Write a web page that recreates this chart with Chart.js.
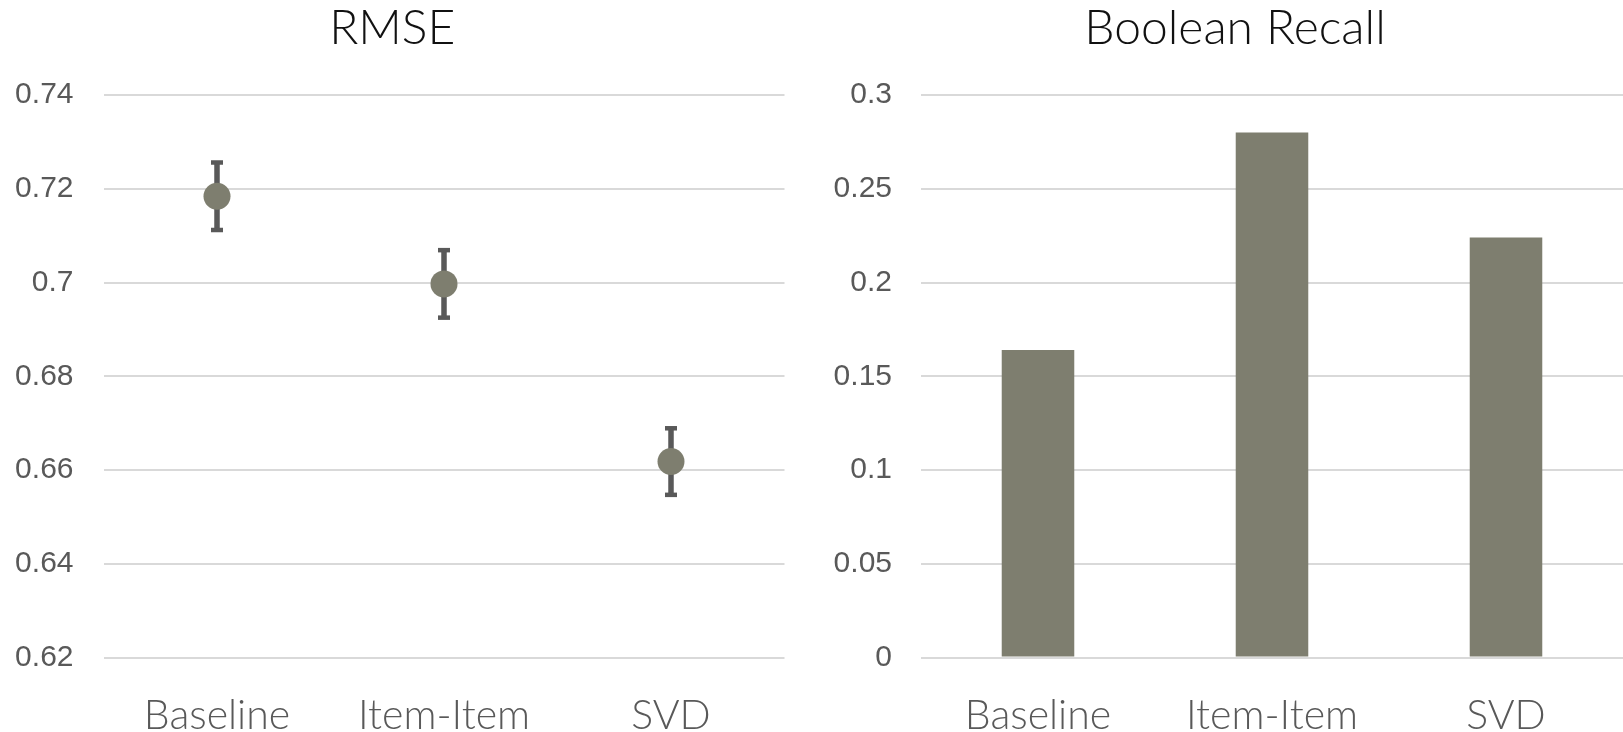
<!DOCTYPE html>
<html>
<head>
<meta charset="utf-8">
<script src="https://cdn.jsdelivr.net/npm/chart.js@4/dist/chart.umd.min.js"></script>
<style>
  html, body { margin: 0; padding: 0; background: #ffffff; width: 1623px; height: 732px; overflow: hidden; }
  .panel { position: absolute; top: 0; }
  #rmseBox { left: 0; width: 810px; height: 732px; }
  #recallBox { left: 810px; width: 850px; height: 732px; }
</style>
</head>
<body>
<div class="panel" id="rmseBox"><canvas id="rmseChart" width="810" height="732"></canvas></div>
<div class="panel" id="recallBox"><canvas id="recallChart" width="850" height="732"></canvas></div>
<script>
// Recommender comparison: RMSE (with error bars) and Boolean Recall
const categories = ['Baseline', 'Item-Item', 'SVD'];

const rmseValues = [0.7184, 0.6997, 0.6618];
const rmseErrors = [0.0072, 0.0072, 0.0071];
const rmseTicks = [0.62, 0.64, 0.66, 0.68, 0.70, 0.72, 0.74];

const recallValues = [0.164, 0.280, 0.224];
const recallTicks = [0, 0.05, 0.10, 0.15, 0.20, 0.25, 0.30];

const markColor = '#7e7e6f';
const errorColor = '#595959';
const gridColor = '#d9d9d9';
const labelColor = '#595959';

const fmt = v => String(Number(v.toFixed(4)));

// Vertical whiskers with caps, drawn beneath the point markers
const errorBars = {
  id: 'errorBars',
  beforeDatasetsDraw(chart, args, opts) {
    if (!opts.errors) return;
    const { ctx, scales: { x, y } } = chart;
    const values = chart.data.datasets[0].data;
    ctx.save();
    ctx.fillStyle = errorColor;
    values.forEach((v, i) => {
      const cx = x.getPixelForValue(i);
      const top = y.getPixelForValue(v + opts.errors[i]);
      const bot = y.getPixelForValue(v - opts.errors[i]);
      ctx.fillRect(cx - 2.75, top, 5.5, bot - top);
      ctx.fillRect(cx - 6, top - 2.25, 12, 4.5);
      ctx.fillRect(cx - 6, bot - 2.25, 12, 4.5);
    });
    ctx.restore();
  }
};

function yScale(ticks, axisWidth, pad) {
  return {
    min: ticks[0],
    max: ticks[ticks.length - 1],
    afterBuildTicks: s => { s.ticks = ticks.map(v => ({ value: v })); },
    afterFit: s => { s.width = axisWidth; },
    grid: { color: gridColor, lineWidth: 2, drawTicks: false },
    border: { display: false },
    ticks: {
      padding: pad,
      color: labelColor,
      font: { family: 'Liberation Sans, Arial, sans-serif', size: 30 },
      callback: v => fmt(v)
    }
  };
}

// Empty right-hand gutter that keeps the plot inside the page edge
function gutter(width) {
  return {
    position: 'right',
    afterFit: s => { s.width = width; },
    grid: { display: false, drawTicks: false },
    border: { display: false },
    ticks: { display: false }
  };
}

function xScale() {
  return {
    offset: true,
    afterFit: s => { s.height = 74.5; },
    grid: { display: false, drawTicks: false },
    border: { display: false },
    ticks: {
      padding: 34,
      color: labelColor,
      maxRotation: 0,
      font: { family: 'Lato, sans-serif', size: 41, weight: 300 }
    }
  };
}

function titleOpts(text) {
  return {
    display: true,
    text: text,
    color: '#111111',
    font: { family: 'Lato, sans-serif', size: 48, weight: 300, lineHeight: 1.2 },
    padding: { top: 0, bottom: 37.4 }
  };
}

Chart.defaults.animation = false;

new Chart(document.getElementById('rmseChart'), {
  type: 'line',
  data: {
    labels: categories,
    datasets: [{
      label: 'RMSE',
      data: rmseValues,
      showLine: false,
      pointRadius: 13.5,
      pointHoverRadius: 13.5,
      pointBackgroundColor: markColor,
      pointBorderWidth: 0,
      borderColor: markColor
    }]
  },
  options: {
    responsive: false,
    layout: { padding: { left: 0, right: 25.5, top: 0, bottom: 0 } },
    plugins: {
      legend: { display: false },
      tooltip: { enabled: false },
      title: titleOpts('RMSE'),
      errorBars: { errors: rmseErrors }
    },
    scales: { x: xScale(), y: yScale(rmseTicks, 103.5, 30) }
  },
  plugins: [errorBars]
});

new Chart(document.getElementById('recallChart'), {
  type: 'bar',
  data: {
    labels: categories,
    datasets: [{
      label: 'Boolean Recall',
      data: recallValues,
      backgroundColor: markColor,
      borderWidth: 0,
      barPercentage: 0.31,
      categoryPercentage: 1
    }]
  },
  options: {
    responsive: false,
    layout: { padding: { left: 0, right: 0, top: 0, bottom: 0 } },
    plugins: {
      legend: { display: false },
      tooltip: { enabled: false },
      title: titleOpts('Boolean Recall')
    },
    scales: { x: xScale(), y: yScale(recallTicks, 111, 29), gutter: gutter(37) }
  }
});
</script>
</body>
</html>
